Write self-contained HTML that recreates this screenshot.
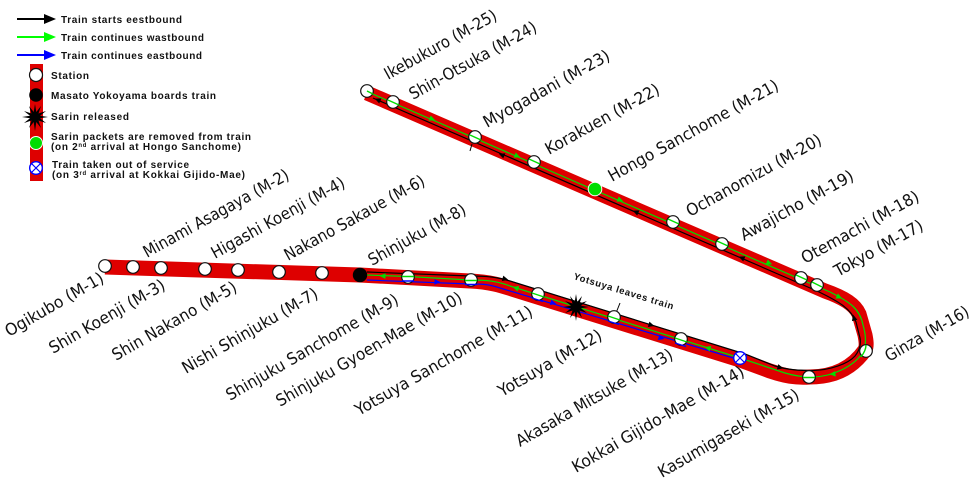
<!DOCTYPE html>
<html><head><meta charset="utf-8">
<style>
html,body{margin:0;padding:0;background:#fff}
svg{display:block}
.l{font-family:"DejaVu Sans",sans-serif;font-size:16.5px;fill:#111}
.k{font-family:"Liberation Sans",sans-serif;font-weight:bold;font-size:10px;fill:#111}
.s{fill:#fff;stroke:#111;stroke-width:1.2}
</style></head><body>
<svg width="971" height="479" viewBox="0 0 971 479" xmlns="http://www.w3.org/2000/svg">
<defs>
<polygon id="star" points="13,0 5,1.3 11,6 3.5,3.5 6,11 1.3,5 0,14 -1.3,5 -6,11 -3.5,3.5 -11,6 -5,1.3 -13,0 -5,-1.3 -11,-6 -3.5,-3.5 -6,-11 -1.3,-5 0,-13 1.3,-5 6,-11 3.5,-3.5 11,-6 5,-1.3" fill="#000"/>
<polygon id="a" points="3.5,0 -2.5,-2.8 -2.5,2.8"/>
</defs>

<!-- legend -->
<g fill="none" stroke-width="2">
<path d="M17 19H48" stroke="#000"/><path d="M17 37H48" stroke="#0f0"/><path d="M17 55H48" stroke="#00f"/>
</g>
<polygon points="44,14 56,19 44,24" fill="#000"/>
<polygon points="44,32 56,37 44,42" fill="#0f0"/>
<polygon points="44,50 56,55 44,60" fill="#00f"/>
<g class="k">
<text x="61" y="23" textLength="121">Train starts eestbound</text>
<text x="61" y="41" textLength="143">Train continues wastbound</text>
<text x="61" y="59" textLength="141">Train continues eastbound</text>
<text x="51" y="79" textLength="38">Station</text>
<text x="51" y="99" textLength="165">Masato Yokoyama boards train</text>
<text x="51" y="120" textLength="78">Sarin released</text>
<text x="51" y="140" textLength="200">Sarin packets are removed from train</text>
<text x="51" y="150" textLength="190">(on 2<tspan font-size="6" dy="-3">nd</tspan><tspan dy="3"> arrival at Hongo Sanchome)</tspan></text>
<text x="52" y="168" textLength="137">Train taken out of service</text>
<text x="52" y="178" textLength="193">(on 3<tspan font-size="6" dy="-3">rd</tspan><tspan dy="3"> arrival at Kokkai Gijido-Mae)</tspan></text>
</g>
<rect x="30" y="64" width="13" height="117" fill="#de0000"/>
<circle class="s" cx="36" cy="75" r="6.5"/>
<circle cx="36" cy="95" r="6.8" fill="#000"/>
<use href="#star" x="35" y="117"/>
<circle cx="36" cy="143" r="6.5" fill="#0d0" stroke="#fff" stroke-width="1"/>
<g>
<circle cx="36" cy="168" r="6.3" fill="#fff" stroke="#00f" stroke-width="1.4"/>
<path d="M31.5 163.5l9 9M40.5 163.5l-9 9" stroke="#00f" stroke-width="1.2"/>
</g>

<!-- red line -->
<path d="M105 267 L360 275 L470 281 C490 282 500 285 515 290 L740 360 L770 371 C785 376 795 378 810 377 C835 377 853 367 865 350 C867 346 866 340 865 335 L859 314 C855 305 845 298 825 291 L367 93" fill="none" stroke="#de0000" stroke-width="15"/>

<!-- tracks -->
<path d="M367 272 L470 276 C487 276 497 277 510 281 L745 354 L775 366 C788 370 800 370.500 813 370.500 C830 370 848 364 855 356 C860 350 861 344 860 338 L856 322 C851 309 840 302 817 291 L373 98" fill="none" stroke="#000" stroke-width="1.2"/>
<path d="M367 275 L408 276.500 L470 280 C487 280 497 281 510 286 L740 358 L785 373 C795 376 803 377 812 377 C832 377 856 366 864 350 C866 344 866 335 863 325 C860 309 850 302 830 292 L368 92" fill="none" stroke="#0d0" stroke-width="1.2"/>
<path d="M367 280 L470 284 C482 284 488 284 500 288 L740 360" fill="none" stroke="#00f" stroke-width="1.2"/>

<!-- arrowheads -->
<g fill="#000">
<use href="#a" transform="translate(505 279) rotate(15)"/>
<use href="#a" transform="translate(651 325) rotate(17)"/>
<use href="#a" transform="translate(780 367.500) rotate(15)"/>
<use href="#a" transform="translate(854 318) rotate(-105)"/>
<use href="#a" transform="translate(742 258) rotate(203)"/>
<use href="#a" transform="translate(636 212) rotate(203)"/>
<use href="#a" transform="translate(502 155) rotate(203)"/>
<use href="#a" transform="translate(378 100) rotate(203)"/>
</g>
<g fill="#0d0">
<use href="#a" transform="translate(383 276) rotate(182)"/>
<use href="#a" transform="translate(516 288) rotate(197)"/>
<use href="#a" transform="translate(708 348) rotate(197)"/>
<use href="#a" transform="translate(833 374) rotate(175)"/>
<use href="#a" transform="translate(839 297) rotate(25)"/>
<use href="#a" transform="translate(769 263) rotate(23)"/>
<use href="#a" transform="translate(620 200) rotate(23)"/>
<use href="#a" transform="translate(517 156) rotate(23)"/>
<use href="#a" transform="translate(432 119) rotate(23)"/>
</g>
<g fill="#00f">
<use href="#a" transform="translate(437 282) rotate(2)"/>
<use href="#a" transform="translate(553 303) rotate(17)"/>
<use href="#a" transform="translate(661 338) rotate(17)"/>
</g>

<path d="M470 151 L472 144" stroke="#000" stroke-width="1"/>
<path d="M616 313 L620 303" stroke="#000" stroke-width="1"/>

<!-- stations -->
<g class="s">
<circle cx="105" cy="266" r="6.3"/><circle cx="133" cy="267" r="6.3"/><circle cx="161" cy="268" r="6.3"/>
<circle cx="205" cy="269" r="6.3"/><circle cx="238" cy="270" r="6.3"/><circle cx="279" cy="272" r="6.3"/>
<circle cx="322" cy="273" r="6.3"/>
<circle cx="408" cy="277" r="6.3"/><circle cx="471" cy="280" r="6.3"/><circle cx="538" cy="294" r="6.3"/>
<circle cx="614" cy="317" r="6.3"/><circle cx="681" cy="339" r="6.3"/><circle cx="809" cy="377" r="6.3"/>
<circle cx="866" cy="351" r="6.3"/><circle cx="817" cy="285" r="6.3"/><circle cx="801" cy="278" r="6.3"/>
<circle cx="722" cy="244" r="6.3"/><circle cx="673" cy="222" r="6.3"/><circle cx="534" cy="162" r="6.3"/>
<circle cx="475" cy="137" r="6.3"/><circle cx="393" cy="102" r="6.3"/><circle cx="367" cy="91" r="6.3"/>
</g>
<!-- lines across stations -->
<g fill="none" stroke-width="1.4">
<path d="M402 276.500H414M465 280.500H477M532 293l12 4M608 316l12 4M675 338l12 4M803 377.500H815M861 357C864 353 866 349 866 345M796 275l11 5M812 282l10 5M717 241l11 5M668 219l11 5M529 159l11 5M470 135l11 5M388 100l11 5M367 91l6 3" stroke="#0d0"/>
<path d="M402 281H414M465 284.500H477M532 298l11 3.500M608 321l11 3.500M675 343l11 3.500" stroke="#00f"/>
</g>
<circle cx="360" cy="275" r="7.2" fill="#000"/>
<use href="#star" x="576" y="307"/>
<circle cx="595" cy="189" r="6.8" fill="#0d0" stroke="#fff" stroke-width="1"/>
<circle cx="740" cy="358" r="6.3" fill="#fff" stroke="#00f" stroke-width="1.4"/>
<path d="M735.500 353.500l9 9M744.500 353.500l-9 9" stroke="#00f" stroke-width="1.2"/>

<text class="k" style="font-size:9.5px" transform="translate(573 279) rotate(17)" textLength="104">Yotsuya leaves train</text>

<!-- station labels -->
<g class="l">
<text lengthAdjust="spacingAndGlyphs" transform="translate(9 337) rotate(-30)" textLength="111">Ogikubo (M-1)</text>
<text lengthAdjust="spacingAndGlyphs" transform="translate(53 354) rotate(-30)" textLength="131">Shin Koenji (M-3)</text>
<text lengthAdjust="spacingAndGlyphs" transform="translate(116 361) rotate(-30)" textLength="141">Shin Nakano (M-5)</text>
<text lengthAdjust="spacingAndGlyphs" transform="translate(186 374) rotate(-30)" textLength="154">Nishi Shinjuku (M-7)</text>
<text lengthAdjust="spacingAndGlyphs" transform="translate(230 401) rotate(-30)" textLength="196">Shinjuku Sanchome (M-9)</text>
<text lengthAdjust="spacingAndGlyphs" transform="translate(280 407) rotate(-30)" textLength="212">Shinjuku Gyoen-Mae (M-10)</text>
<text lengthAdjust="spacingAndGlyphs" transform="translate(359 416) rotate(-30)" textLength="202">Yotsuya Sanchome (M-11)</text>
<text lengthAdjust="spacingAndGlyphs" transform="translate(502 397) rotate(-30)" textLength="117">Yotsuya (M-12)</text>
<text lengthAdjust="spacingAndGlyphs" transform="translate(520 447) rotate(-30)" textLength="178">Akasaka Mitsuke (M-13)</text>
<text lengthAdjust="spacingAndGlyphs" transform="translate(576 473) rotate(-30)" textLength="196">Kokkai Gijido-Mae (M-14)</text>
<text lengthAdjust="spacingAndGlyphs" transform="translate(662 478) rotate(-30)" textLength="160">Kasumigaseki (M-15)</text>
<text lengthAdjust="spacingAndGlyphs" transform="translate(889 362) rotate(-30)" textLength="94">Ginza (M-16)</text>
<text lengthAdjust="spacingAndGlyphs" transform="translate(147 258) rotate(-29)" textLength="164">Minami Asagaya (M-2)</text>
<text lengthAdjust="spacingAndGlyphs" transform="translate(215 259) rotate(-29)" textLength="150">Higashi Koenji (M-4)</text>
<text lengthAdjust="spacingAndGlyphs" transform="translate(288 261) rotate(-29)" textLength="158">Nakano Sakaue (M-6)</text>
<text lengthAdjust="spacingAndGlyphs" transform="translate(372 266) rotate(-29)" textLength="109">Shinjuku (M-8)</text>
<text lengthAdjust="spacingAndGlyphs" transform="translate(388 80) rotate(-29)" textLength="126">Ikebukuro (M-25)</text>
<text lengthAdjust="spacingAndGlyphs" transform="translate(413 100) rotate(-29)" textLength="143">Shin-Otsuka (M-24)</text>
<text lengthAdjust="spacingAndGlyphs" transform="translate(487 128) rotate(-29)" textLength="142">Myogadani (M-23)</text>
<text lengthAdjust="spacingAndGlyphs" transform="translate(549 155) rotate(-29)" textLength="128">Korakuen (M-22)</text>
<text lengthAdjust="spacingAndGlyphs" transform="translate(612 182) rotate(-29)" textLength="192">Hongo Sanchome (M-21)</text>
<text lengthAdjust="spacingAndGlyphs" transform="translate(690 217) rotate(-29)" textLength="152">Ochanomizu (M-20)</text>
<text lengthAdjust="spacingAndGlyphs" transform="translate(744 241) rotate(-29)" textLength="127">Awajicho (M-19)</text>
<text lengthAdjust="spacingAndGlyphs" transform="translate(805 264) rotate(-29)" textLength="132">Otemachi (M-18)</text>
<text lengthAdjust="spacingAndGlyphs" transform="translate(838 277) rotate(-29)" textLength="99">Tokyo (M-17)</text>
</g>
</svg>
</body></html>
